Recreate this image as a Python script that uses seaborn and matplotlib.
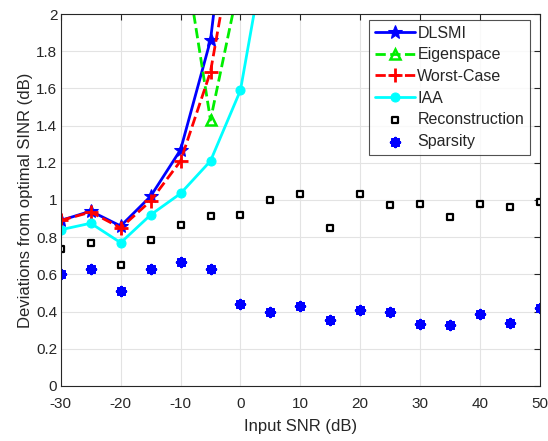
import matplotlib
matplotlib.use("Agg")
import matplotlib.pyplot as plt
import seaborn as sns
import numpy as np

snr = [-30, -25, -20, -15, -10, -5, 0, 5, 10, 15, 20, 25, 30, 35, 40, 45, 50]
nan = np.nan

dlsmi = [0.89, 0.94, 0.86, 1.02, 1.27, 1.86, 3.2] + [nan] * 10
eigen = [nan, nan, nan, nan, 2.45, 1.43, 2.2] + [nan] * 10
worst = [0.89, 0.935, 0.85, 0.995, 1.21, 1.69, 2.6] + [nan] * 10
iaa = [0.84, 0.875, 0.77, 0.92, 1.035, 1.21, 1.59, 2.5] + [nan] * 9
recon = [0.735, 0.77, 0.65, 0.785, 0.865, 0.915, 0.92, 1.0, 1.03, 0.85,
         1.03, 0.975, 0.98, 0.91, 0.98, 0.96, 0.99]
spars = [0.6, 0.63, 0.51, 0.63, 0.665, 0.63, 0.44, 0.395, 0.43, 0.355,
         0.41, 0.40, 0.335, 0.325, 0.385, 0.34, 0.42]

sns.set_style("white")
plt.rcParams['font.family'] = ['Liberation Sans', 'DejaVu Sans']
plt.rcParams['axes.unicode_minus'] = False

fig = plt.figure(figsize=(5.48, 4.41), dpi=100)
ax = fig.add_axes([0.111, 0.125, 0.874, 0.843])

sns.lineplot(x=snr, y=dlsmi, ax=ax, color='#0000ff', lw=2, marker='*',
             markersize=10, markeredgecolor='#0000ff', label='DLSMI')
sns.lineplot(x=snr, y=eigen, ax=ax, color='#00ee00', lw=2, linestyle='--',
             marker='^', markersize=7, markerfacecolor='none',
             markeredgecolor='#00ee00', markeredgewidth=1.8, label='Eigenspace')
sns.lineplot(x=snr, y=worst, ax=ax, color='#ff0000', lw=2, linestyle='--',
             marker='+', markersize=10, markeredgewidth=2,
             markeredgecolor='#ff0000', label='Worst-Case')
sns.lineplot(x=snr, y=iaa, ax=ax, color='#00ffff', lw=2, marker='o',
             markersize=6.5, markeredgecolor='#00ffff', label='IAA')
sns.scatterplot(x=snr, y=recon, ax=ax, marker='s', s=16, facecolor='white',
                edgecolor='black', linewidth=1.6, label='Reconstruction')
sns.scatterplot(x=snr, y=spars, ax=ax, marker=(8, 2, 0), s=34,
                color='#0000ff', edgecolor='#0000ff', linewidth=2.4,
                label='Sparsity')

ax.set_xlim(-30, 50)
ax.set_ylim(0, 2)
ax.set_xticks(np.arange(-30, 51, 10))
ax.set_yticks(np.arange(0, 2.01, 0.2))
ax.set_yticklabels(['0', '0.2', '0.4', '0.6', '0.8', '1', '1.2', '1.4',
                    '1.6', '1.8', '2'])
ax.grid(True, color='#e3e3e3', lw=0.8)
ax.tick_params(direction='in', length=4, width=0.8, labelsize=11,
               top=True, right=True, colors='#262626')
ax.tick_params(axis='x', pad=8)
ax.tick_params(axis='y', pad=2.5)
for s in ax.spines.values():
    s.set_color('#262626')
    s.set_linewidth(0.8)

ax.set_xlabel('Input SNR (dB)', fontsize=12, labelpad=6)
ax.set_ylabel('Deviations from optimal SINR (dB)', fontsize=12, labelpad=2)

leg = ax.legend(loc='upper right', fontsize=11.5, handlelength=2.5,
                frameon=True, fancybox=False, borderpad=0.35,
                labelspacing=0.42, handletextpad=0.15, borderaxespad=0,
                bbox_to_anchor=(0.979, 0.984))
leg.get_frame().set_edgecolor('#262626')
leg.get_frame().set_linewidth(0.8)

fig.savefig('out.png', dpi=100)
